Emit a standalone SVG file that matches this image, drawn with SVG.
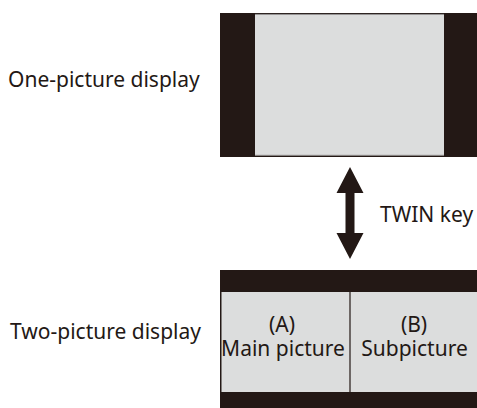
<svg xmlns="http://www.w3.org/2000/svg" width="477" height="408" viewBox="0 0 477 408">
<style>
.dark{fill:#231815}
.screen{fill:#dcdddd}
.lbl{font-family:"Noto Sans","Open Sans",sans-serif;font-size:21px;fill:#231815}
.mid{text-anchor:middle}
</style>
<rect width="477" height="408" fill="#ffffff"/>
<g id="one-picture">
<rect class="dark" x="220" y="13" width="257" height="144"/>
<rect class="screen" x="255" y="14" width="189" height="141.5"/>
<line x1="255" y1="14.3" x2="444" y2="14.3" stroke="#6e6a69" stroke-width="0.8"/>
<line x1="255" y1="155.3" x2="444" y2="155.3" stroke="#8a8685" stroke-width="0.8"/>
<text class="lbl" x="8" y="87">One-picture display</text>
</g>
<g id="two-picture">
<rect class="dark" x="220" y="270" width="257" height="138"/>
<rect class="screen" x="221.5" y="292" width="255.5" height="100"/>
<line x1="350" y1="292" x2="350" y2="392" stroke="#231815" stroke-width="1.2"/>
<text class="lbl" x="10" y="339">Two-picture display</text>
<text class="lbl mid" x="282" y="332">(A)</text>
<text class="lbl mid" x="283" y="356">Main picture</text>
<text class="lbl mid" x="414" y="332">(B)</text>
<text class="lbl mid" x="414.5" y="356">Subpicture</text>
</g>
<g id="connectors">
<path class="dark" d="M350,167 L363.5,193 L354.5,193 L354.5,233 L363.5,233 L350,259 L336.5,233 L345.5,233 L345.5,193 L336.5,193 Z"/>
<text class="lbl" x="380" y="222">TWIN key</text>
</g>
</svg>
